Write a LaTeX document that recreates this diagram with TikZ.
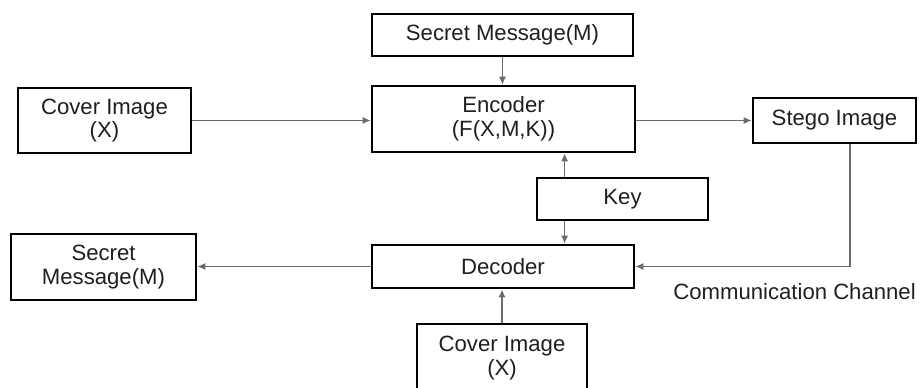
\documentclass[tikz,border=0pt]{standalone}
\usepackage{fontspec}
\setmainfont{Liberation Sans}
\usetikzlibrary{arrows.meta}
\definecolor{vtext}{HTML}{1f1f1f}
\definecolor{varrow}{HTML}{6b6b6b}
\begin{document}
\begin{tikzpicture}[x=0.02cm, y=-0.02cm,
		block/.style={draw=black, line width=1.6pt, fill=white, text=vtext, align=center, inner sep=0pt,
			font=\fontsize{12.6}{13.6}\selectfont},
		arr/.style={draw=varrow, line width=0.7pt, -{Latex[length=4.5pt, width=4pt]}}]
		\useasboundingbox (0,0) rectangle (920,387);
		\clip (0,0) rectangle (920,387);
		\node[block, minimum width=5.22cm, minimum height=0.84cm] (msgin) at (502.5,35) {Secret Message(M)};
		\node[block, minimum width=5.26cm, minimum height=1.32cm] (enc) at (503.5,119) {Encoder\\(F(X,M,K))};
		\node[block, minimum width=3.46cm, minimum height=1.30cm] (cover) at (104.5,120.5) {Cover Image\\(X)};
		\node[block, minimum width=3.26cm, minimum height=0.90cm] (stego) at (834.5,120.5) {Stego Image};
		\node[block, minimum width=3.42cm, minimum height=0.84cm] (key) at (622.5,199) {Key};
		\node[block, minimum width=5.24cm, minimum height=0.86cm] (dec) at (503,266.5) {Decoder};
		\node[block, minimum width=3.70cm, minimum height=1.32cm] (msgout) at (103.5,267) {Secret\\Message(M)};
		\node[block, minimum width=3.40cm, minimum height=1.36cm] (coverb) at (502,358) {Cover Image\\(X)};
		\node[text=vtext, anchor=west, inner sep=0pt, font=\fontsize{12.6}{13.6}\selectfont] (chan) at (673,292) {Communication Channel};
		% connectors
		\draw[arr] (msgin.south) -- (msgin.south |- enc.north);
		\draw[arr] (cover.east) -- (cover.east -| enc.west);
		\draw[arr] (enc.east |- stego.west) -- (stego.west);
		\draw[arr] ([xshift=0.58cm]key.north west) -- ([xshift=0.58cm]key.north west |- enc.south);
		\draw[arr] ([xshift=0.58cm]key.south west) -- ([xshift=0.58cm]key.south west |- dec.north);
		\draw[arr] ([xshift=0.31cm]stego.south) |- (dec.east);
		\draw[arr] (dec.west) -- (dec.west -| msgout.east);
		\draw[arr] (coverb.north) -- (coverb.north |- dec.south);
	\end{tikzpicture}
\end{document}
